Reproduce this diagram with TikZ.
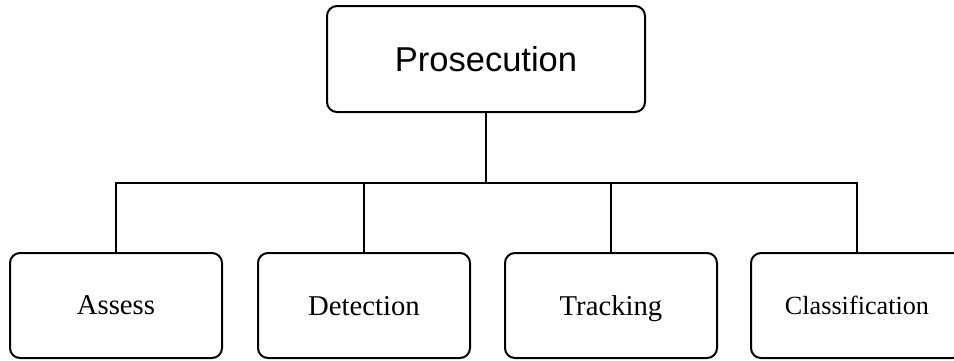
\documentclass[tikz,border=0pt]{standalone}
\usepackage{fontspec}
\setmainfont{Liberation Serif}
\newfontfamily\headfont{Liberation Sans}
\begin{document}
\begin{tikzpicture}[x=1pt,y=-1pt,
  box/.style={draw=black,line width=2pt,rounded corners=10pt,fill=white,
    inner sep=0pt,text depth=0pt,anchor=center},
  conn/.style={draw=black,line width=2pt}]
\clip (0,0) rectangle (954,360);
\fill[white] (0,0) rectangle (954,360);
\node[box,minimum width=318pt,minimum height=106pt,
  font=\headfont\fontsize{34.5}{40}\selectfont] (top) at (486,59) {Prosecution};
\node[box,minimum width=212pt,minimum height=105pt,
  font=\fontsize{28.7}{34}\selectfont] (a) at (116,305.5) {Assess};
\node[box,minimum width=212pt,minimum height=105pt,
  font=\fontsize{28.7}{34}\selectfont] (d) at (364,305.5) {Detection};
\node[box,minimum width=212pt,minimum height=105pt,
  font=\fontsize{28.7}{34}\selectfont] (t) at (611,305.5) {Tracking};
\node[box,minimum width=212pt,minimum height=105pt,
  font=\fontsize{26.2}{32}\selectfont] (c) at (857,305.5) {Classification};
\coordinate (j) at (486,183);
\draw[conn] (top.south) -- (j);
\draw[conn] (a.north) |- (j) -| (c.north);
\draw[conn] (d.north) -- (d.north |- j);
\draw[conn] (t.north) -- (t.north |- j);
\end{tikzpicture}
\end{document}
